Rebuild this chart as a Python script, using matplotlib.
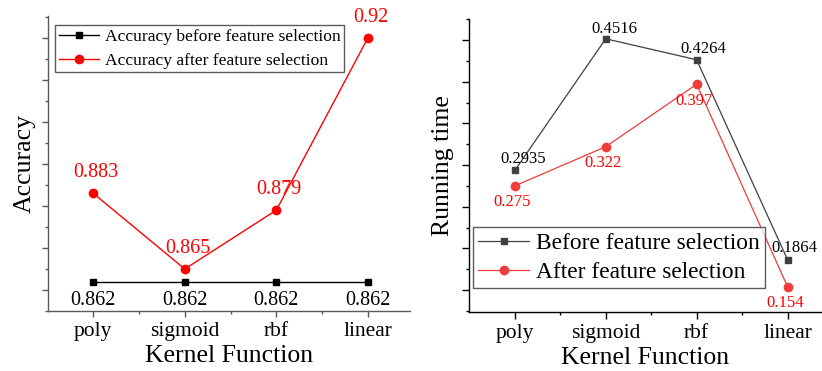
import matplotlib
matplotlib.use("Agg")
import matplotlib.pyplot as plt
from matplotlib.ticker import MultipleLocator, FixedLocator

plt.rcParams['font.family'] = ['Liberation Serif', 'DejaVu Serif']
plt.rcParams['mathtext.fontset'] = 'stix'

kernels = ['poly', 'sigmoid', 'rbf', 'linear']
acc_before = [0.862, 0.862, 0.862, 0.862]
acc_after = [0.883, 0.865, 0.879, 0.92]
time_before = [0.2935, 0.4516, 0.4264, 0.1864]
time_after = [0.275, 0.322, 0.397, 0.154]

x = list(range(len(kernels)))

fig = plt.figure(figsize=(8.22, 3.71), dpi=100)
ax1 = fig.add_axes([0.0584, 0.1617, 0.4404, 0.7952])
ax2 = fig.add_axes([0.571, 0.160, 0.428, 0.788])


def style_axes(ax, spine_color, major, minor, ticklen):
    for s in ['top', 'right']:
        ax.spines[s].set_visible(False)
    for s in ['left', 'bottom']:
        ax.spines[s].set_color(spine_color)
        ax.spines[s].set_linewidth(1.0)
    ax.yaxis.set_major_locator(MultipleLocator(major))
    ax.yaxis.set_minor_locator(MultipleLocator(minor))
    ax.set_yticklabels([])
    ax.set_xticks(x)
    ax.set_xticklabels(kernels, fontsize=15.5)
    ax.xaxis.set_minor_locator(FixedLocator([0.5, 1.5, 2.5]))
    ax.tick_params(which='major', direction='out', length=ticklen, width=1.0,
                   color=spine_color, pad=4)
    ax.tick_params(which='minor', direction='out', length=2.5, width=1.0,
                   color=spine_color)
    ax.set_xlabel('Kernel Function', fontsize=18.5, labelpad=3)


# left: accuracy
ax1.plot(x, acc_before, color='black', lw=1.0, marker='s', ms=5,
         label='Accuracy before feature selection')
ax1.plot(x, acc_after, color='red', lw=1.0, marker='o', ms=6,
         label='Accuracy after feature selection')
for xi, v in zip(x, acc_before):
    ax1.annotate(f'{v:g}', (xi, v), xytext=(0, -7), textcoords='offset points',
                 ha='center', va='top', fontsize=14.5, color='black')
for xi, v in zip(x, acc_after):
    ax1.annotate(f'{v:g}', (xi, v), xytext=(2, 8), textcoords='offset points',
                 ha='center', va='bottom', fontsize=14.5, color='red')
ax1.set_xlim(-0.494, 3.46)
ax1.set_ylim(0.855, 0.9252)
style_axes(ax1, '#5a5a5a', 0.01, 0.005, 4)
ax1.set_ylabel('Accuracy', fontsize=18.5, labelpad=1)
leg1 = ax1.legend(loc='upper left', bbox_to_anchor=(0.02, 0.968), fontsize=12.6,
                  frameon=True, fancybox=False, edgecolor='#333333',
                  handlelength=2.3, borderpad=0.2, labelspacing=0.42,
                  handletextpad=0.35, borderaxespad=0.0)
leg1.get_frame().set_linewidth(1.0)

# right: running time
gray = '#404040'
red2 = '#f03c3c'
ax2.plot(x, time_before, color=gray, lw=0.9, marker='s', ms=5,
         label='Before feature selection')
ax2.plot(x, time_after, color=red2, lw=0.9, marker='o', ms=6,
         label='After feature selection')
before_off = [(6, 2.5), (6, 1.6), (5, 2), (5, 2.5)]
after_off = [(-2, -6), (-2, -6), (-2, -6), (-2, -6)]
for xi, v, off in zip(x, time_before, before_off):
    ax2.annotate(f'{v:g}', (xi, v), xytext=off, textcoords='offset points',
                 ha='center', va='bottom', fontsize=12, color='black')
for xi, v, off in zip(x, time_after, after_off):
    ax2.annotate(f'{v:g}', (xi, v), xytext=off, textcoords='offset points',
                 ha='center', va='top', fontsize=12, color='red')
ax2.set_xlim(-0.5, 3.37)
ax2.set_ylim(0.124, 0.475)
style_axes(ax2, 'black', 0.05, 0.025, 4.8)
ax2.set_ylabel('Running time', fontsize=18.5, labelpad=2)
leg2 = ax2.legend(loc='lower left', bbox_to_anchor=(0.01, 0.08), fontsize=16.8,
                  frameon=True, fancybox=False, edgecolor='#333333',
                  handlelength=2.2, borderpad=0.22, labelspacing=0.34,
                  handletextpad=0.3, borderaxespad=0.0)
leg2.get_frame().set_linewidth(1.0)

fig.savefig('out.png', dpi=100)
